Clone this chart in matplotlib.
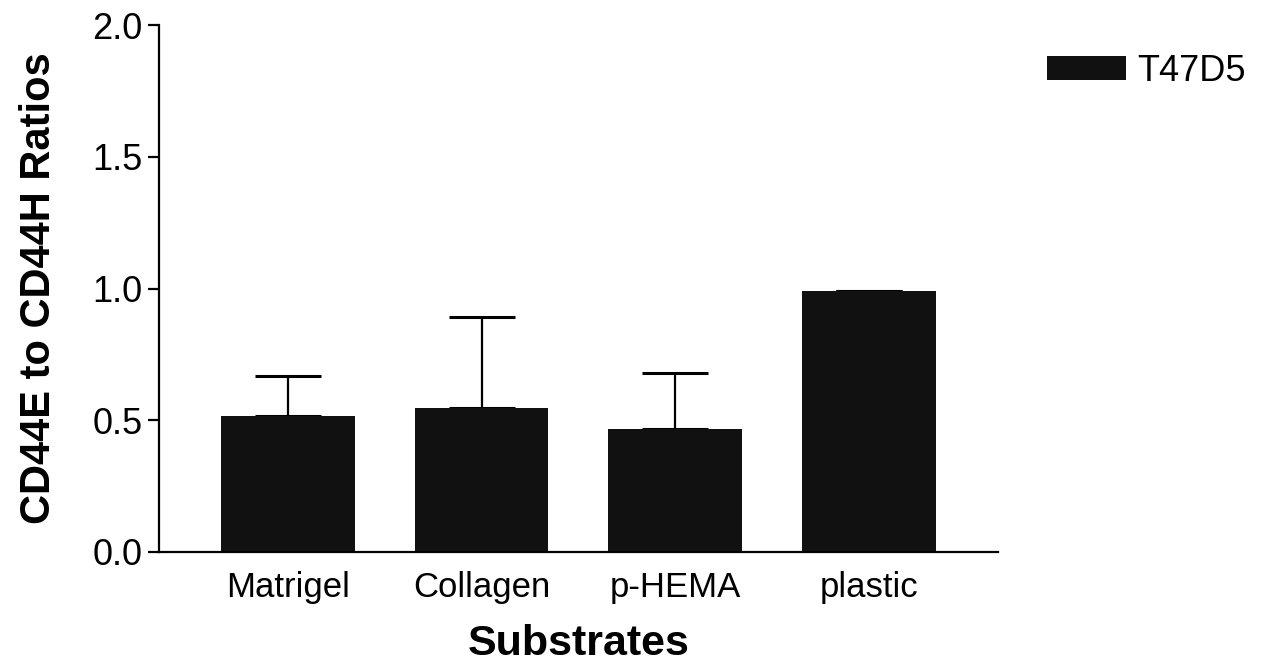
import matplotlib
matplotlib.use("Agg")
import matplotlib.pyplot as plt
import numpy as np

plt.rcParams['font.family'] = ['Liberation Sans', 'DejaVu Sans']

substrates = ['Matrigel', 'Collagen', 'p-HEMA', 'plastic']
ratios = [0.514, 0.548, 0.467, 0.990]
err_up = [0.155, 0.345, 0.212, 0.0]
yticks = [0.0, 0.5, 1.0, 1.5, 2.0]
ytick_labels = ['0.0', '0.5', '1.0', '1.5', '2.0']

fig = plt.figure(figsize=(12.76, 6.64), dpi=100)
ax = fig.add_axes([0.1246, 0.169, 0.6575, 0.793])

x = np.arange(len(substrates))
bars = ax.bar(x, ratios, width=0.69, color='#111111', label='T47D5', zorder=2)
ax.errorbar(x, ratios, yerr=[np.zeros(len(x)), err_up], fmt='none',
            ecolor='black', elinewidth=1.6, capsize=24, capthick=2.2, zorder=1)

ax.set_xlim(-0.666, 3.666)
ax.set_ylim(0, 2.0)
ax.set_yticks(yticks)
ax.set_yticklabels(ytick_labels)
ax.set_xticks(x)
ax.set_xticklabels(substrates)

ax.spines['top'].set_visible(False)
ax.spines['right'].set_visible(False)
ax.spines['left'].set_linewidth(1.6)
ax.spines['bottom'].set_linewidth(1.6)
ax.tick_params(axis='y', length=8, width=1.6, labelsize=26, pad=4)
ax.tick_params(axis='x', length=0, labelsize=25, pad=14)

ax.set_xlabel('Substrates', fontsize=31, fontweight='bold', labelpad=14)
ax.set_ylabel('CD44E to CD44H Ratios', fontsize=30, fontweight='bold', labelpad=24)

fig.legend(handles=[bars], labels=['T47D5'], loc='upper left',
           bbox_to_anchor=(0.795, 0.968), frameon=False, fontsize=26,
           handlelength=2.2, handleheight=0.65, handletextpad=0.3)

fig.savefig('out.png', dpi=100)
